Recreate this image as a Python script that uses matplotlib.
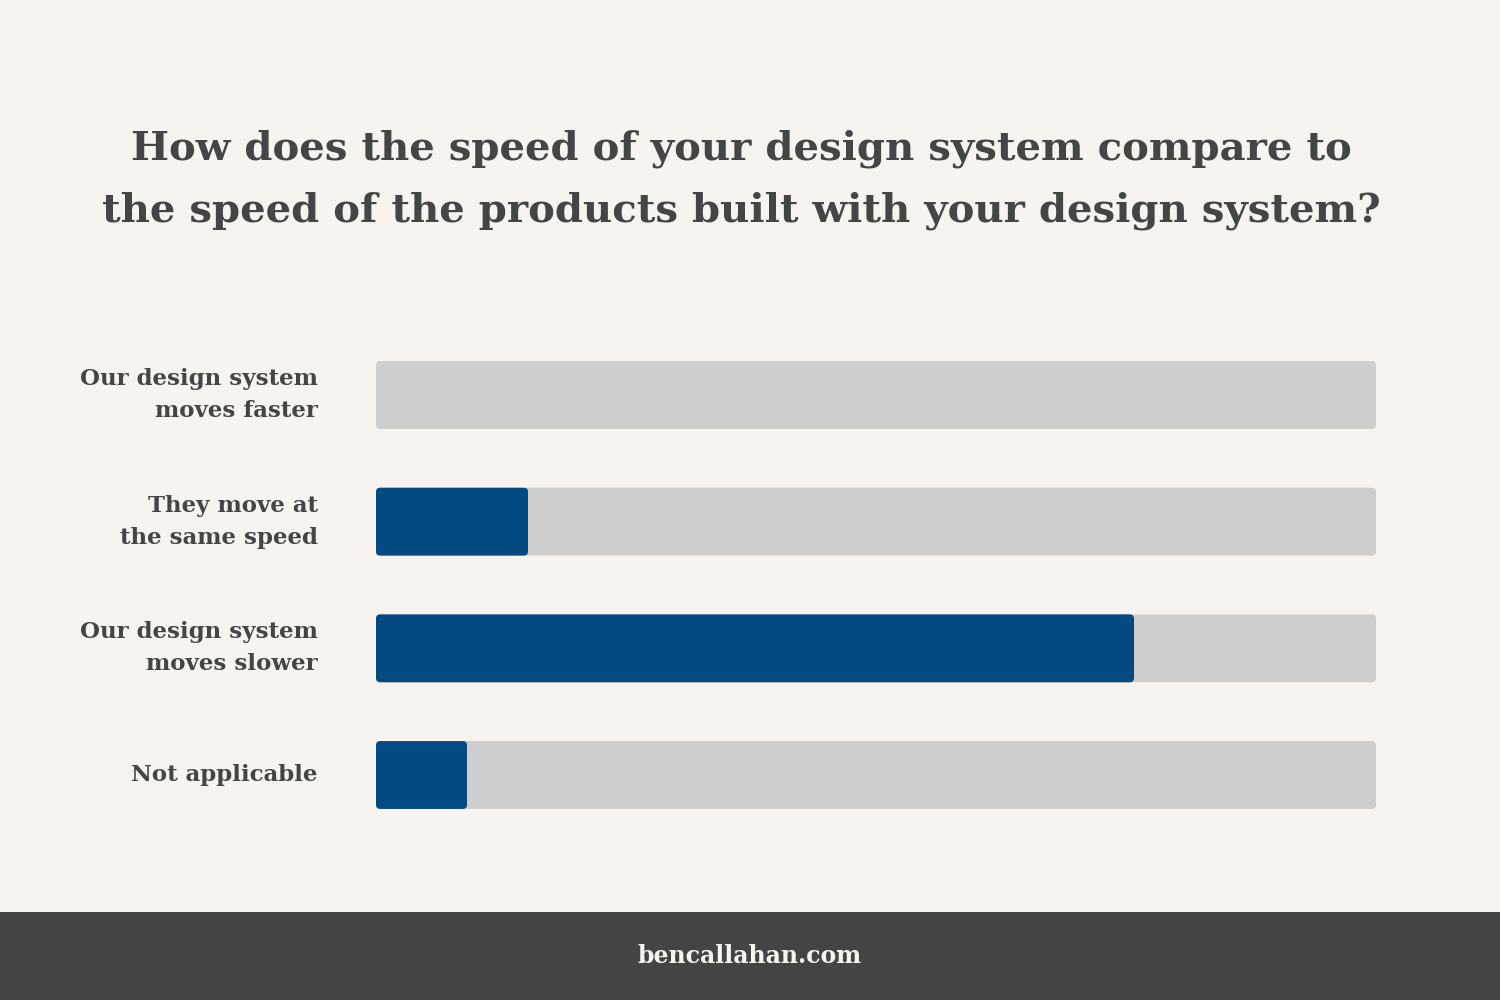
import matplotlib.pyplot as plt
from matplotlib.patches import Rectangle, FancyBboxPatch

# survey answers and share of respondents (%)
categories = ["Our design system\nmoves faster", "They move at\nthe same speed",
              "Our design system\nmoves slower", "Not applicable"]
values = [0, 15.2, 75.8, 9.1]
title = ("How does the speed of your design system compare to\n"
         "the speed of the products built with your design system?")
footer = "bencallahan.com"

BG = "#f7f3ef"
TRACK = "#cecece"
BLUE = "#034a82"
TEXT = "#454545"
FOOT = "#444444"

plt.rcParams['font.family'] = ['DejaVu Serif']

fig = plt.figure(figsize=(15, 10), dpi=100, facecolor=BG)

# footer band
fig.patches.append(Rectangle((0, 0), 1, 0.088, transform=fig.transFigure,
                             facecolor=FOOT, edgecolor="none", zorder=0))
fig.text(0.5, 0.044, footer, ha="center", va="center", fontsize=17,
         fontweight="bold", color=BG)

fig.text(0.494, 0.82, title, ha="center", va="center", fontsize=29,
         fontweight="bold", color=TEXT, linespacing=1.8)

ax = fig.add_axes([0.25067, 0.16167, 0.66667, 0.50667])
ax.set_facecolor("none")
pos = list(range(len(categories)))
tracks = ax.barh(pos, [100] * len(values), height=0.536, color=TRACK)
fills = ax.barh(pos, values, height=0.536, color=BLUE)


def round_bars(bars, color, z):
    # swap square bars for rounded ones of same extent
    for b in bars:
        if b.get_width() <= 0:
            b.remove()
            continue
        p = FancyBboxPatch((b.get_x(), b.get_y()), b.get_width(), b.get_height(),
                           boxstyle="round,pad=0,rounding_size=0.45",
                           mutation_aspect=0.07, facecolor=color,
                           edgecolor="none", zorder=z)
        b.remove()
        ax.add_patch(p)


round_bars(tracks, TRACK, 1)
round_bars(fills, BLUE, 2)

ax.set_xlim(0, 100)
ax.set_ylim(3.5, -0.5)
ax.set_yticks(pos)
ax.set_yticklabels(categories, fontsize=16.5, color=TEXT, fontweight="bold",
                   linespacing=1.6, ha="right", va="center")
ax.tick_params(axis="y", length=0, pad=42)
ax.set_xticks([])
for s in ax.spines.values():
    s.set_visible(False)

fig.savefig("out.png", dpi=100, facecolor=BG)
